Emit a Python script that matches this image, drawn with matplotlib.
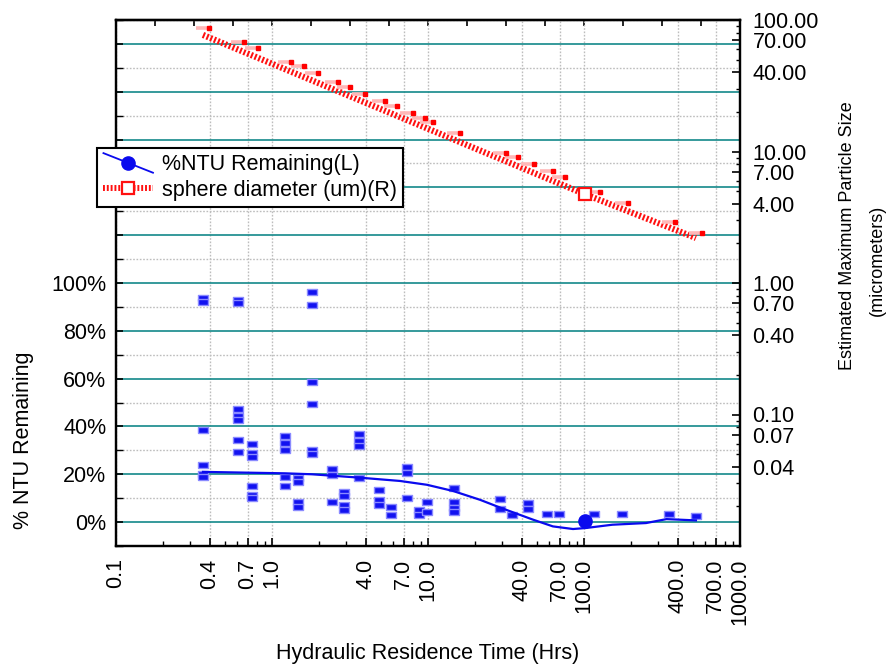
import numpy as np
import matplotlib
matplotlib.use('Agg')
import matplotlib.pyplot as plt
from matplotlib.ticker import FixedLocator, FuncFormatter, NullFormatter
from matplotlib.legend_handler import HandlerLine2D
from matplotlib.lines import Line2D
from matplotlib.transforms import offset_copy

plt.rcParams['font.family'] = ['Liberation Sans', 'DejaVu Sans']

# ---------------- data ----------------
hrt_times = [0.361, 0.605, 0.74, 1.21, 1.47, 1.80, 2.43, 2.88, 3.63, 4.87, 5.79, 7.3,
             8.8, 9.8, 14.6, 28.9, 34.7, 43.5, 57.6, 69.3, 116, 174, 352, 522]
ntu_remaining = [
    [93.7, 92.1, 38.7, 23.7, 20.0, 18.9],
    [93.0, 91.5, 47.5, 44.3, 42.6, 34.4, 29.4],
    [32.6, 28.9, 27.4, 15.3, 11.4, 10.0],
    [36.0, 33.2, 30.3, 18.9, 15.3],
    [18.3, 16.6, 8.3, 6.5],
    [96.4, 90.6, 58.5, 49.3, 30.2, 28.6],
    [22.0, 19.7, 8.6],
    [12.6, 10.8, 7.0, 5.2],
    [37.0, 33.9, 31.7, 18.6],
    [13.6, 9.2, 7.3],
    [6.4, 3.1],
    [23.2, 20.7, 10.0],
    [5.0, 2.9],
    [8.2, 4.4],
    [14.4, 8.6, 6.1, 4.4],
    [9.6, 5.4],
    [3.1],
    [7.9, 5.4],
    [3.5],
    [3.5],
    [3.3],
    [3.3],
    [3.5],
    [2.4],
]
sphere_diam = [86.9, 68.1, 61.0, 48.1, 44.9, 39.5, 33.7, 31.2, 27.4, 24.2, 22.0, 19.6,
               18.0, 16.9, 13.8, 9.77, 9.01, 8.02, 7.05, 6.38, 4.95, 4.06, 2.91, 2.38]

fit_times = [0.361, 1.21, 1.80, 3.63, 6.62, 9.85, 14.5, 21.6, 28.9, 47.2, 63.2, 85, 102,
             152, 250, 338, 522]
fit_ntu = [21.0, 20.4, 20.0, 18.6, 17.2, 15.6, 13.0, 9.3, 6.1, 1.0, -1.8, -2.9, -2.5,
           -1.1, -0.4, 1.25, 0.7]
ntu_marker_time = [102]
ntu_marker_val = [0.5]

diam_line_times = [0.361, 102, 522]
diam_line_vals = [77.0, 4.72, 2.2]

x_ticks = [0.1, 0.4, 0.7, 1.0, 4.0, 7.0, 10.0, 40.0, 70.0, 100.0, 400.0, 700.0, 1000.0]
left_ticks = [0, 20, 40, 60, 80, 100, 120, 140, 160, 180, 200]
right_ticks = [0.04, 0.07, 0.1, 0.4, 0.7, 1.0, 4.0, 7.0, 10.0, 40.0, 70.0, 100.0]

# ---------------- figure ----------------
W, H = 886, 666
fig = plt.figure(figsize=(W / 100, H / 100), dpi=100)
ax = fig.add_axes([116 / W, 1 - 546 / H, 624 / W, 526 / H])
ax2 = ax.twinx()

TEAL = '#13898a'
GRAY = '#bdbdbd'
FS = 15.5
FS_R = 13

# left axis
ax.set_xscale('log')
ax.set_xlim(0.1, 1000)
ax.set_ylim(-10, 210)
ax.yaxis.set_major_locator(FixedLocator(left_ticks))
ax.yaxis.set_minor_locator(FixedLocator(np.arange(-10, 211, 20)))
ax.yaxis.set_major_formatter(FuncFormatter(lambda v, p: f'{v:.0f}%' if v <= 100 else ''))
ax.xaxis.set_major_locator(FixedLocator(x_ticks))
minor_x = [m * 10.0 ** e for e in range(-1, 3) for m in range(2, 10)]
minor_x = [v for v in minor_x if not any(abs(v - t) < 1e-9 * t for t in x_ticks)]
ax.xaxis.set_minor_locator(FixedLocator(minor_x))
ax.xaxis.set_major_formatter(FuncFormatter(lambda v, p: f'{v:.1f}'))
ax.xaxis.set_minor_formatter(NullFormatter())

ax.grid(axis='y', which='major', color=TEAL, lw=1.2, ls='-')
ax.grid(axis='y', which='minor', color=GRAY, lw=1.0, ls=(0, (1.2, 1.2)))
ax.grid(axis='x', which='major', color=GRAY, lw=1.0, ls=(0, (1.2, 1.2)))
ax.set_axisbelow(True)

ax.tick_params(axis='x', which='major', direction='in', length=6, width=1.2,
               labelsize=FS, labelrotation=90, pad=9)
ax.tick_params(axis='x', which='minor', direction='in', length=3.5, width=1.0)
ax.tick_params(axis='y', which='major', direction='in', length=5, width=1.2,
               labelsize=FS, pad=7)
ax.tick_params(axis='y', which='minor', direction='in', length=5, width=1.0)
for s in ax.spines.values():
    s.set_linewidth(1.6)

# top ticks (quarter decades)
top = ax.secondary_xaxis('top')
top.xaxis.set_major_locator(FixedLocator([10.0 ** e for e in np.arange(-1, 3.01, 0.25)]))
top.xaxis.set_minor_locator(FixedLocator([]))
top.xaxis.set_major_formatter(NullFormatter())
top.tick_params(axis='x', which='major', direction='in', length=4, width=1.2)
top.spines['top'].set_linewidth(1.6)

# right axis
ax2.set_yscale('log')
ax2.set_ylim(0.01, 100)
ax2.yaxis.set_major_locator(FixedLocator(right_ticks))
minor_r = [m * 10.0 ** e for e in range(-2, 2) for m in range(2, 10)]
minor_r = [v for v in minor_r if not any(abs(v - t) < 1e-9 * t for t in right_ticks)]
ax2.yaxis.set_minor_locator(FixedLocator(minor_r))
ax2.yaxis.set_major_formatter(FuncFormatter(lambda v, p: f'{v:.2f}'))
ax2.yaxis.set_minor_formatter(NullFormatter())
ax2.tick_params(axis='y', which='major', direction='in', length=6, width=1.2,
                labelsize=FS, pad=9)
ax2.tick_params(axis='y', which='minor', direction='in', length=3, width=1.0)
for s in ax2.spines.values():
    s.set_linewidth(1.6)

# ---------------- data marks ----------------
rect = [(-1, -0.5), (1, -0.5), (1, 0.5), (-1, 0.5), (-1, -0.5)]
for t, vals in zip(hrt_times, ntu_remaining):
    ax.plot([t] * len(vals), vals, ls='none', marker=rect, ms=7.5,
            mfc='#1212f0', mec='#8a8aff', mew=1.0, zorder=3)

ax.plot(fit_times, fit_ntu, color='#0a0aee', lw=1.6, zorder=4)
ax.plot(ntu_marker_time, ntu_marker_val, ls='none', marker='o', ms=9.5,
        color='#0a0aee', zorder=5)

# red series on right axis
ax2.plot(diam_line_times, diam_line_vals, color='#ff1010', lw=4.5,
         dashes=(0.32, 0.32), solid_capstyle='butt', dash_capstyle='butt', zorder=3)
ax2.plot([diam_line_times[1]], [diam_line_vals[1]], ls='none', marker='s', ms=9,
         mfc='white', mec='#ff1010', mew=1.6, zorder=6)
ax2.plot(hrt_times, sphere_diam, ls='none', marker='_', ms=10, mew=2.6,
         color='#ffb8b8', zorder=4)
dot_tr = offset_copy(ax2.transData, fig=fig, x=6, y=0, units='dots')
ax2.plot(hrt_times, sphere_diam, ls='none', marker='s', ms=2.2, color='#ff0000',
         transform=dot_tr, zorder=5)

# ---------------- legend ----------------
class DiagHandler(HandlerLine2D):
    def create_artists(self, legend, orig_handle, xdescent, ydescent, width, height,
                       fontsize, trans):
        x0, x1 = -xdescent, -xdescent + width
        y0, y1 = -ydescent + height * 1.15, -ydescent - height * 0.15
        line = Line2D([x0, x1], [y0, y1])
        self.update_prop(line, orig_handle, legend)
        line.set_marker('None')
        line.set_transform(trans)
        mk = Line2D([(x0 + x1) / 2], [(y0 + y1) / 2])
        self.update_prop(mk, orig_handle, legend)
        mk.set_linestyle('None')
        mk.set_transform(trans)
        return [line, mk]

h1 = Line2D([], [], color='#0a0aee', lw=1.3, marker='o', ms=9.5)
h2 = Line2D([], [], color='#ff1010', lw=4.3, dashes=(0.32, 0.32), marker='s', ms=9,
            mfc='white', mec='#ff1010', mew=1.6)
leg = ax2.legend([h1, h2], ['%NTU Remaining(L)', 'sphere diameter (um)(R)'],
                 handler_map={h1: DiagHandler()},
                 loc='upper left', bbox_to_anchor=(97 / W, 1 - 148 / H),
                 bbox_transform=fig.transFigure, borderaxespad=0,
                 fontsize=FS, frameon=True, fancybox=False, framealpha=1,
                 edgecolor='black', handlelength=2.3, handletextpad=0.4,
                 labelspacing=0.2, borderpad=0.3)
leg.get_frame().set_linewidth(1.5)
leg.set_zorder(10)

# ---------------- labels ----------------
fig.text(428 / W, 1 - 653 / H, 'Hydraulic Residence Time (Hrs)', fontsize=FS,
         ha='center', va='center')
fig.text(24 / W, 1 - 440 / H, '% NTU Remaining', fontsize=FS, rotation=90,
         ha='center', va='center')
fig.text(848 / W, 1 - 236 / H, 'Estimated Maximum Particle Size', fontsize=FS_R,
         rotation=90, ha='center', va='center')
fig.text(877 / W, 1 - 260 / H, '(micrometers)', fontsize=FS_R, rotation=90,
         ha='center', va='center')

fig.savefig('out.png', dpi=100)
